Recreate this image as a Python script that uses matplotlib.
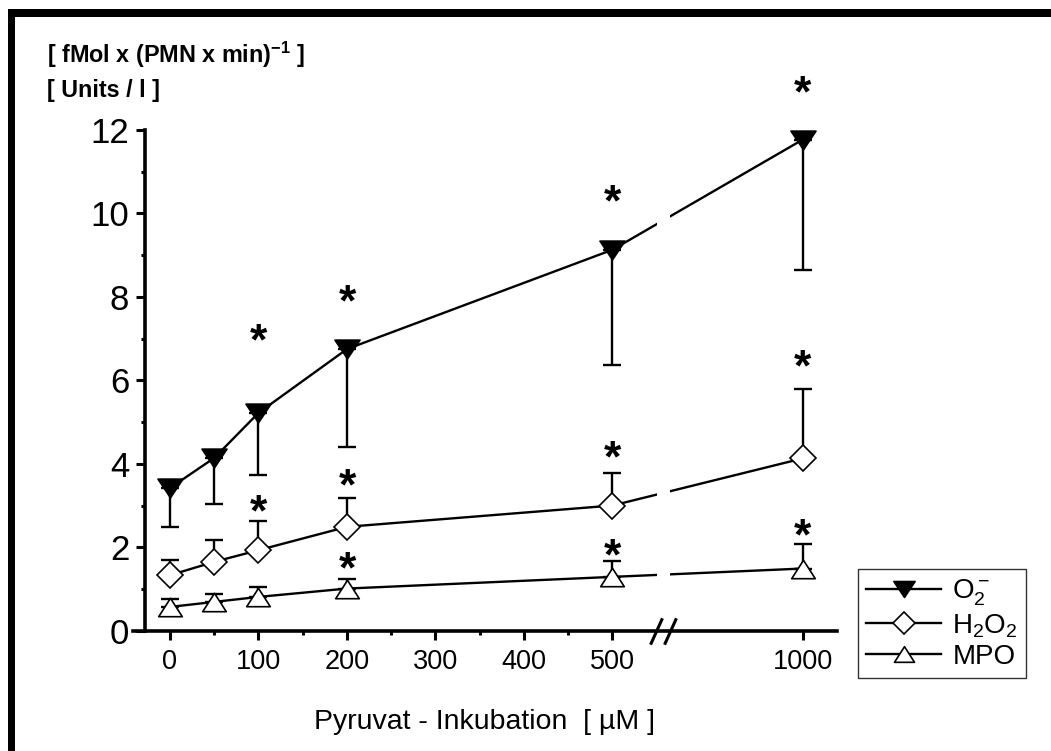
import numpy as np
import matplotlib
matplotlib.use("Agg")
import matplotlib.pyplot as plt
from matplotlib.patches import Rectangle
from matplotlib.path import Path
from matplotlib import transforms

plt.rcParams['font.family'] = ['Liberation Sans', 'DejaVu Sans']
plt.rcParams['mathtext.fontset'] = 'custom'
plt.rcParams['mathtext.rm'] = 'Liberation Sans'
plt.rcParams['mathtext.it'] = 'Liberation Sans'
plt.rcParams['mathtext.bf'] = 'Liberation Sans:bold'

# ---------------- data ----------------
conc = [0, 50, 100, 200, 500, 1000]

o2_mean = [3.42, 4.14, 5.22, 6.75, 9.13, 11.77]
o2_low = [2.49, 3.04, 3.73, 4.41, 6.37, 8.65]

h2o2_mean = [1.33, 1.65, 1.93, 2.49, 3.00, 4.13]
h2o2_high = [1.69, 2.17, 2.64, 3.17, 3.77, 5.79]

mpo_mean = [0.57, 0.69, 0.81, 1.01, 1.29, 1.49]
mpo_high = [0.75, 0.88, 1.04, 1.25, 1.68, 2.08]

o2_star_x = [100, 200, 500, 1000]
o2_star_y = [7.16, 8.10, 10.50, 13.10]
h2o2_star_x = [100, 200, 500, 1000]
h2o2_star_y = [3.06, 3.69, 4.35, 6.54]
mpo_star_x = [200, 500, 1000]
mpo_star_y = [1.69, 2.01, 2.49]

xticks_major = [0, 100, 200, 300, 400, 500, 1000]
xticks_minor = [50, 150, 250, 350, 450]
yticks_major = [0, 2, 4, 6, 8, 10, 12]
yticks_minor = [1, 3, 5, 7, 9, 11]

labels = ["O$_2^-$", "H$_2$O$_2$", "MPO"]

# ---------------- broken-axis scale ----------------
SQ = 0.43


def fwd(x):
    x = np.asarray(x, dtype=float)
    return np.where(x <= 500, x, 500 + (x - 500) * SQ)


def inv(u):
    u = np.asarray(u, dtype=float)
    return np.where(u <= 500, u, 500 + (u - 500) / SQ)


W, H = 1051, 751
fig = plt.figure(figsize=(W / 100, H / 100), dpi=100)
ax = fig.add_axes([133 / W, 1 - 630.7 / H, 704 / W, (630.7 - 130) / H])
ax.set_xscale('function', functions=(fwd, inv))
ax.set_xlim(-41.8, 1090)
ax.set_ylim(0, 12)

for s in ['top', 'right']:
    ax.spines[s].set_visible(False)
ax.spines['left'].set_position(('data', -28))
ax.spines['left'].set_linewidth(2.6)
ax.spines['bottom'].set_linewidth(2.6)

ax.set_xticks(xticks_major)
ax.set_xticks(xticks_minor, minor=True)
ax.set_xticklabels([str(v) for v in xticks_major])
ax.set_yticks(yticks_major)
ax.set_yticks(yticks_minor, minor=True)
ax.set_yticklabels([str(v) for v in yticks_major])
ax.tick_params(axis='both', which='major', direction='out', length=6.5, width=2.2, color='black')
ax.tick_params(axis='both', which='minor', direction='out', length=3, width=2.2, color='black')
ax.tick_params(axis='x', which='major', labelsize=19.5, pad=7)
ax.tick_params(axis='y', which='major', labelsize=25, pad=5)

ax.set_xlabel("Pyruvat - Inkubation  [ µM ]", fontsize=20.5, labelpad=24)

# markers (closed paths)
tri_down = Path([(-1, 0.75), (1, 0.75), (0, -0.75), (-1, 0.75)],
                [Path.MOVETO, Path.LINETO, Path.LINETO, Path.CLOSEPOLY])
tri_up = Path([(-1, -0.78), (1, -0.78), (0, 0.78), (-1, -0.78)],
              [Path.MOVETO, Path.LINETO, Path.LINETO, Path.CLOSEPOLY])

conc_a = np.array(conc)
o2_m = np.array(o2_mean)
h2_m = np.array(h2o2_mean)
mp_m = np.array(mpo_mean)

ekw = dict(fmt='none', ecolor='black', elinewidth=1.7, capsize=6.5, capthick=1.7, zorder=2)
ax.errorbar(conc_a, o2_m, yerr=[o2_m - np.array(o2_low), np.zeros_like(o2_m)], **ekw)
ax.errorbar(conc_a, h2_m, yerr=[np.zeros_like(h2_m), np.array(h2o2_high) - h2_m], **ekw)
ax.errorbar(conc_a, mp_m, yerr=[np.zeros_like(mp_m), np.array(mpo_high) - mp_m], **ekw)

l1, = ax.plot(conc_a, o2_m, color='black', lw=1.7, marker=tri_down, ms=18,
              mfc='black', mec='black', mew=1.2, zorder=3, clip_on=False)
l2, = ax.plot(conc_a, h2_m, color='black', lw=1.7, marker='D', ms=13,
              mfc='white', mec='black', mew=1.2, zorder=3, clip_on=False)
l3, = ax.plot(conc_a, mp_m, color='black', lw=1.7, marker=tri_up, ms=17,
              mfc='white', mec='black', mew=1.2, zorder=3, clip_on=False)

# gap in the lines at the axis break
ax.axvspan(617, 651, ymin=0.02, ymax=1, color='white', zorder=3.5, lw=0)

# break marks on the x axis
slash = Path([(-0.45, -1), (0.45, 1)], [Path.MOVETO, Path.LINETO])
ax.plot([615, 650], [0, 0], ls='none', marker=slash, ms=19, mew=2.2,
        color='black', clip_on=False, zorder=5)

# asterisks
star_tr = transforms.offset_copy(ax.transData, fig=fig, y=-8, units='points')
for xs, ys in [(o2_star_x, o2_star_y), (h2o2_star_x, h2o2_star_y), (mpo_star_x, mpo_star_y)]:
    for xv, yv in zip(xs, ys):
        ax.text(xv, yv, "*", fontsize=32, fontweight='bold', ha='center', va='center',
                transform=star_tr, clip_on=False)

# axis unit labels
fig.text(47 / W, 1 - 63 / H, r"[ fMol x (PMN x min)$^{\mathbf{-1}}$ ]",
         fontsize=16.8, fontweight='bold', ha='left', va='baseline')
fig.text(47 / W, 1 - 97 / H, "[ Units / l ]",
         fontsize=16.8, fontweight='bold', ha='left', va='baseline')

# legend
leg = fig.legend([l1, l2, l3], labels, loc='upper left',
                 bbox_to_anchor=(858 / W, 1 - 569 / H), fontsize=20,
                 frameon=True, fancybox=False, edgecolor='black',
                 handlelength=2.7, handletextpad=0.4, labelspacing=0.15,
                 borderpad=0.3, borderaxespad=0, markerscale=0.85)
leg.get_frame().set_linewidth(1.0)

# black frame (left and top edges)
fig.add_artist(Rectangle((8 / W, 0), 7 / W, 1 - 9 / H, transform=fig.transFigure,
                         facecolor='black', edgecolor='none'))
fig.add_artist(Rectangle((8 / W, 1 - 17 / H), 1 - 8 / W, 8 / H, transform=fig.transFigure,
                         facecolor='black', edgecolor='none'))

fig.savefig("out.png", dpi=100)
